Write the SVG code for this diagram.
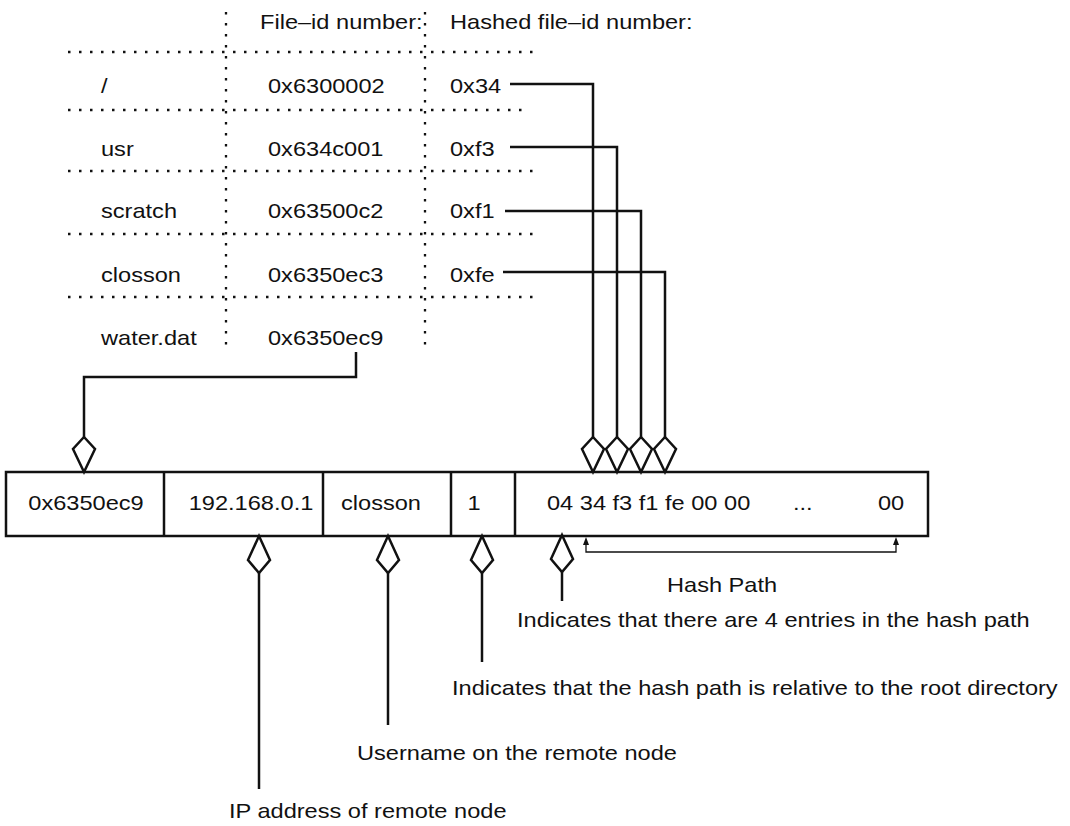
<svg xmlns="http://www.w3.org/2000/svg" xmlns:xlink="http://www.w3.org/1999/xlink" width="1070" height="826" viewBox="0 0 1070 826">
<style>
.t{font-family:"Liberation Sans",Arial,Helvetica,sans-serif;font-size:20px;fill:#111}
.m{text-anchor:middle}
.dot{stroke:#111;stroke-width:2.3;stroke-dasharray:2.5 8.5;fill:none}
.ln{stroke:#111;stroke-width:2.5;fill:none}
.thin{stroke:#111;stroke-width:1.3;fill:none}
.kite{fill:#fff;stroke:#111;stroke-width:2.5;stroke-linejoin:miter}
.box{fill:#fff;stroke:#111;stroke-width:2.5}
</style>
<defs>
<path id="kd" class="kite" d="M0,0 L-11,-23 L0,-35 L11,-23 Z"/>
<path id="ku" class="kite" d="M0,0 L-11,24 L0,37 L11,24 Z"/>
<path id="ah" d="M0,0 L-3,8 L3,8 Z" fill="#111"/>
</defs>
<rect width="1070" height="826" fill="#fff"/>

<g id="table">
<line class="dot" x1="68" y1="52" x2="540" y2="52"/>
<line class="dot" x1="68" y1="110" x2="530" y2="110"/>
<line class="dot" x1="68" y1="171" x2="540" y2="171"/>
<line class="dot" x1="68" y1="234" x2="540" y2="234"/>
<line class="dot" x1="68" y1="297" x2="540" y2="297"/>
<line class="dot" x1="226" y1="12" x2="226" y2="345"/>
<line class="dot" x1="425" y1="12" x2="425" y2="345"/>
<text class="t" transform="translate(260,29) scale(1.18,1)">File–id number:</text>
<text class="t" transform="translate(450,29) scale(1.18,1)">Hashed file–id number:</text>
<text class="t" transform="translate(101,93) scale(1.18,1)">/</text>
<text class="t" transform="translate(268,93) scale(1.18,1)">0x6300002</text>
<text class="t" transform="translate(450,93) scale(1.18,1)">0x34</text>
<text class="t" transform="translate(101,156) scale(1.18,1)">usr</text>
<text class="t" transform="translate(268,156) scale(1.18,1)">0x634c001</text>
<text class="t" transform="translate(450,156) scale(1.18,1)">0xf3</text>
<text class="t" transform="translate(101,218) scale(1.18,1)">scratch</text>
<text class="t" transform="translate(268,218) scale(1.18,1)">0x63500c2</text>
<text class="t" transform="translate(450,218) scale(1.18,1)">0xf1</text>
<text class="t" transform="translate(101,282) scale(1.18,1)">closson</text>
<text class="t" transform="translate(268,282) scale(1.18,1)">0x6350ec3</text>
<text class="t" transform="translate(450,282) scale(1.18,1)">0xfe</text>
<text class="t" transform="translate(101,345) scale(1.18,1)">water.dat</text>
<text class="t" transform="translate(268,345) scale(1.18,1)">0x6350ec9</text>
</g>

<g id="record">
<rect class="box" x="6" y="472" width="922" height="64"/>
<line class="ln" x1="164" y1="472" x2="164" y2="536"/>
<line class="ln" x1="323" y1="472" x2="323" y2="536"/>
<line class="ln" x1="451" y1="472" x2="451" y2="536"/>
<line class="ln" x1="515" y1="472" x2="515" y2="536"/>
<text class="t m" transform="translate(86,510) scale(1.18,1)">0x6350ec9</text>
<text class="t m" transform="translate(251,510) scale(1.18,1)">192.168.0.1</text>
<text class="t m" transform="translate(381,510) scale(1.18,1)">closson</text>
<text class="t m" transform="translate(474,510) scale(1.18,1)">1</text>
<text class="t" transform="translate(547,510) scale(1.18,1)">04 34 f3 f1 fe 00 00</text>
<text class="t" transform="translate(793,510) scale(1.18,1)">...</text>
<text class="t" transform="translate(878,510) scale(1.18,1)">00</text>
</g>

<g id="connectors">
<polyline class="ln" points="356,352 356,377 84,377 84,437"/>
<use xlink:href="#kd" x="84" y="472"/>
<polyline class="ln" points="510,84 593,84 593,437"/>
<polyline class="ln" points="510,147 617,147 617,437"/>
<polyline class="ln" points="505,211 641,211 641,437"/>
<polyline class="ln" points="503,272 665,272 665,437"/>
<use xlink:href="#kd" x="593" y="472"/>
<use xlink:href="#kd" x="617" y="472"/>
<use xlink:href="#kd" x="641" y="472"/>
<use xlink:href="#kd" x="665" y="472"/>
<line class="ln" x1="259" y1="573" x2="259" y2="789"/>
<use xlink:href="#ku" x="259" y="536"/>
<line class="ln" x1="388" y1="573" x2="388" y2="725"/>
<use xlink:href="#ku" x="388" y="536"/>
<line class="ln" x1="482" y1="573" x2="482" y2="662"/>
<use xlink:href="#ku" x="482" y="536"/>
<line class="ln" x1="562" y1="572" x2="562" y2="601"/>
<use xlink:href="#ku" x="562" y="535"/>
<polyline class="thin" points="586,540 586,552 896,552 896,540"/>
<use xlink:href="#ah" x="586" y="537"/>
<use xlink:href="#ah" x="896" y="537"/>
</g>

<g id="labels">
<text class="t" transform="translate(667,592) scale(1.18,1)">Hash Path</text>
<text class="t" transform="translate(517,627) scale(1.18,1)">Indicates that there are 4 entries in the hash path</text>
<text class="t" transform="translate(452,695) scale(1.18,1)">Indicates that the hash path is relative to the root directory</text>
<text class="t" transform="translate(357,760) scale(1.18,1)">Username on the remote node</text>
<text class="t" transform="translate(229,818) scale(1.18,1)">IP address of remote node</text>
</g>
</svg>
